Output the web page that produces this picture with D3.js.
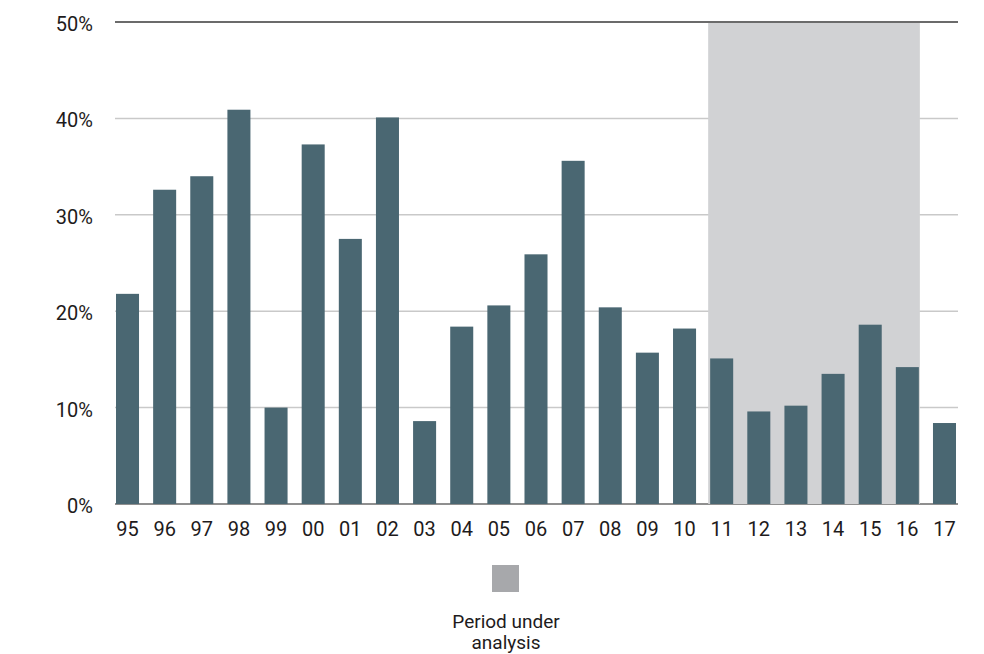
<!DOCTYPE html>
<html>
<head>
<meta charset="utf-8">
<script src="https://cdn.jsdelivr.net/npm/d3@7"></script>
<style>
  html, body { margin: 0; padding: 0; background: #ffffff; }
  svg { display: block; }
  text { font-family: Roboto, "Noto Sans", sans-serif; fill: #1e1b1c; }
</style>
</head>
<body>
<svg id="chart" width="984" height="654"></svg>
<script>
// Years (two-digit labels) and the annual percentage for each
const years = ["95","96","97","98","99","00","01","02","03","04","05","06",
               "07","08","09","10","11","12","13","14","15","16","17"];
const values = [21.8, 32.6, 34.0, 40.9, 10.0, 37.3, 27.5, 40.1, 8.6, 18.4, 20.6, 25.9,
                35.6, 20.4, 15.7, 18.2, 15.1, 9.6, 10.2, 13.5, 18.6, 14.2, 8.4];
const yTicks = [0, 10, 20, 30, 40, 50];
const periodStart = "11";
const periodEnd = "16";
const legendLines = ["Period under", "analysis"];

const svg = d3.select("#chart");

const x = d3.scaleBand()
  .domain(years)
  .range([116, 956])
  .paddingInner(0.38)
  .paddingOuter(0);

const y = d3.scaleLinear()
  .domain([0, 50])
  .range([504, 22]);

const gridLeft = 115, gridRight = 958;

// Horizontal gridlines
const grid = svg.append("g");
grid.selectAll("line")
  .data(yTicks)
  .join("line")
  .attr("x1", gridLeft)
  .attr("x2", gridRight)
  .attr("y1", d => y(d))
  .attr("y2", d => y(d))
  .attr("stroke", d => d === 50 ? "#3a3a3a" : (d === 0 ? "#6a6a6a" : "#c9c9c9"))
  .attr("stroke-width", 1.5);

// Shaded band marking the period under analysis
svg.append("rect")
  .attr("x", x(periodStart) - 2)
  .attr("y", y(50) + 1)
  .attr("width", x(periodEnd) + x.bandwidth() + 1 - (x(periodStart) - 2))
  .attr("height", y(0) - y(50) - 1)
  .attr("fill", "#d1d2d4");

// Bars
svg.append("g")
  .selectAll("rect")
  .data(years.map((yr, i) => ({ yr, v: values[i] })))
  .join("rect")
  .attr("x", d => x(d.yr))
  .attr("width", x.bandwidth())
  .attr("y", d => y(d.v))
  .attr("height", d => y(0) - y(d.v))
  .attr("fill", "#4a6772");

// Y axis labels
const yAxis = d3.axisLeft(y)
  .tickValues(yTicks)
  .tickFormat(d => d + "%")
  .tickSize(0)
  .tickPadding(0);
const yg = svg.append("g")
  .attr("transform", "translate(93,2)")
  .call(yAxis);
yg.select(".domain").remove();
yg.selectAll("text")
  .attr("font-size", 20)
  .attr("font-weight", 400)
  .attr("font-family", "Roboto, sans-serif")
  .attr("fill", "#1e1b1c");

// X axis labels
const xAxis = d3.axisBottom(x).tickSize(0).tickPadding(0);
const xg = svg.append("g")
  .attr("transform", "translate(0,522)")
  .call(xAxis);
xg.select(".domain").remove();
xg.selectAll("text")
  .attr("font-size", 20)
  .attr("font-weight", 400)
  .attr("font-family", "Roboto, sans-serif")
  .attr("fill", "#1e1b1c");

// Legend
const legend = svg.append("g");
legend.append("rect")
  .attr("x", 492)
  .attr("y", 565)
  .attr("width", 27)
  .attr("height", 27)
  .attr("fill", "#a7a8ab");
legend.selectAll("text")
  .data(legendLines)
  .join("text")
  .attr("x", 506)
  .attr("y", (d, i) => 628 + i * 21)
  .attr("text-anchor", "middle")
  .attr("font-size", 19)
  .attr("font-weight", 400)
  .text(d => d);
</script>
</body>
</html>
